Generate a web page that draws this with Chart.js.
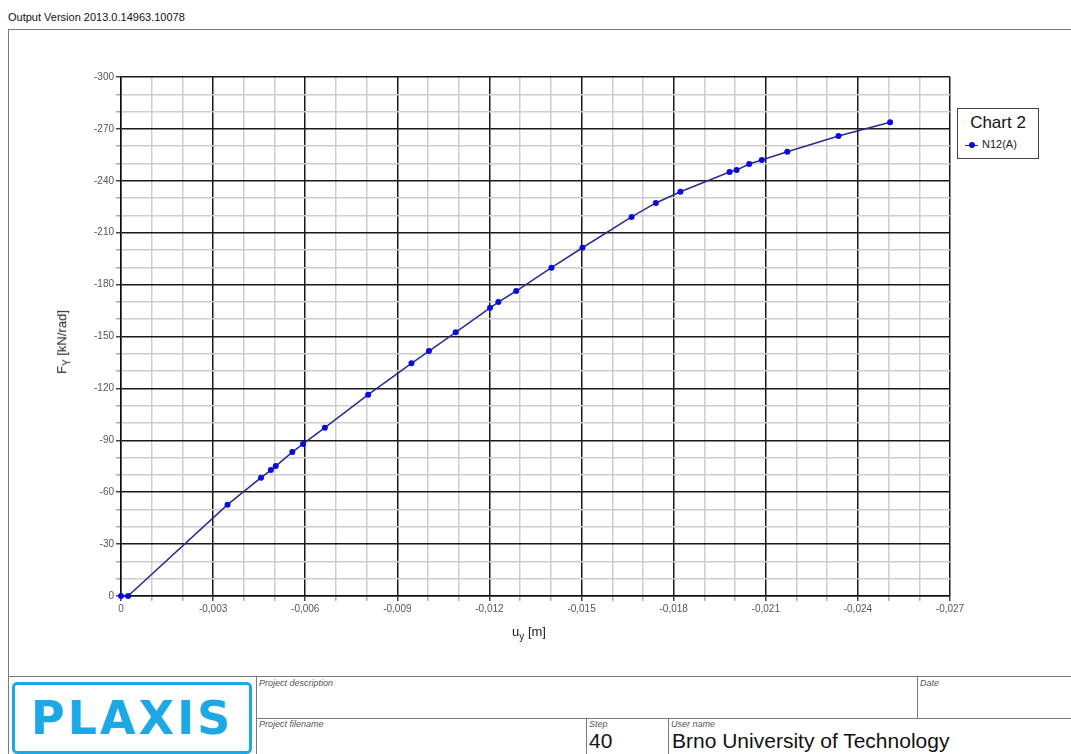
<!DOCTYPE html>
<html>
<head>
<meta charset="utf-8">
<script src="https://cdn.jsdelivr.net/npm/chart.js@4/dist/chart.umd.min.js"></script>
<style>
  html,body{margin:0;padding:0;background:#fff;width:1071px;height:754px;overflow:hidden;font-family:"Liberation Sans",Arial,sans-serif;}
  #wrap{position:relative;width:1071px;height:754px;}
  #c{position:absolute;left:0;top:0;}
  .abs{position:absolute;white-space:nowrap;}
  .hl{position:absolute;height:0;border-top:1px solid #7a7a7a;}
  .vl{position:absolute;width:0;border-left:1px solid #7a7a7a;}
  .lbl{position:absolute;font-size:9px;font-style:italic;color:#555;white-space:nowrap;}
</style>
</head>
<body>
<div id="wrap">
  <div class="abs" style="left:8px;top:11px;font-size:11px;color:#111;">Output Version 2013.0.14963.10078</div>
  <!-- outer frame -->
  <div class="hl" style="left:8px;top:29px;width:1063px;"></div>
  <div class="vl" style="left:8px;top:29px;height:725px;"></div>
  <canvas id="c" width="1071" height="676"></canvas>
  <!-- axis titles -->
  <div class="abs" style="left:529px;top:624px;transform:translateX(-50%);font-size:13px;color:#222;">u<sub style="font-size:10px;">y</sub> [m]</div>
  <div class="abs" style="left:63px;top:342px;transform:translate(-50%,-50%) rotate(-90deg);font-size:13px;color:#222;">F<sub style="font-size:10px;">Y</sub> [kN/rad]</div>
  <!-- legend -->
  <div class="abs" style="left:957px;top:108px;width:80px;height:49px;border:1px solid #444;background:#fff;">
    <div style="position:absolute;left:0;width:80px;top:4px;text-align:center;font-size:17px;color:#111;">Chart 2</div>
    <div style="position:absolute;left:7px;top:36px;width:13px;height:0;border-top:1.5px solid #2b2b8f;"></div>
    <div style="position:absolute;left:11px;top:33px;width:6px;height:6px;border-radius:50%;background:#0a0ae0;"></div>
    <div style="position:absolute;left:24px;top:29px;font-size:11px;color:#222;">N12(A)</div>
  </div>
  <!-- title block -->
  <div class="hl" style="left:8px;top:676px;width:1063px;"></div>
  <div style="position:absolute;left:12px;top:682px;width:234px;height:66px;border:3px solid #1ba8e4;border-radius:5px;"></div>
  <div class="abs" style="left:12px;top:682px;width:240px;height:72px;line-height:72px;text-align:center;font-size:46px;font-weight:bold;color:#1ba8e4;letter-spacing:3px;font-family:'DejaVu Sans','Liberation Sans',sans-serif;">PLAXIS</div>
  <div class="vl" style="left:256px;top:676px;height:78px;"></div>
  <div class="hl" style="left:256px;top:718px;width:815px;"></div>
  <div class="vl" style="left:917px;top:676px;height:42px;"></div>
  <div class="vl" style="left:586px;top:718px;height:36px;"></div>
  <div class="vl" style="left:668px;top:718px;height:36px;"></div>
  <div class="lbl" style="left:259px;top:678px;">Project description</div>
  <div class="lbl" style="left:920px;top:678px;">Date</div>
  <div class="lbl" style="left:259px;top:719px;">Project filename</div>
  <div class="lbl" style="left:589px;top:719px;">Step</div>
  <div class="lbl" style="left:671px;top:719px;">User name</div>
  <div class="abs" style="left:589px;top:729px;font-size:21px;color:#111;">40</div>
  <div class="abs" style="left:672px;top:729px;font-size:21px;color:#111;">Brno University of Technology</div>
</div>
<script>
// Data (u_y in m, F_Y in kN/rad)
const uy = [0, -0.00023, -0.00347, -0.00456, -0.00488, -0.00504, -0.00558, -0.00593, -0.00664, -0.00805,
            -0.00946, -0.01003, -0.01090, -0.01202, -0.01229, -0.01287, -0.01402, -0.01503, -0.01663, -0.01742,
            -0.01822, -0.01982, -0.02005, -0.02046, -0.02087, -0.02170, -0.02337, -0.02505];
const fy = [0, 0, -52.8, -68.4, -72.8, -75.1, -83.2, -87.9, -97.3, -116.4,
            -134.5, -141.6, -152.4, -166.6, -169.9, -176.3, -189.8, -201.3, -219.1, -227.2,
            -233.7, -245.1, -246.2, -249.7, -252.0, -256.8, -265.9, -273.8];
const seriesName = 'N12(A)';
const xTickStep = 0.001, xMin = -0.027, xMax = 0;
const yTickStep = 10, yMin = -300, yMax = 0;

const points = uy.map((u, i) => ({x: u, y: fy[i]}));

function xMajor(v){ return Math.abs(Math.round(v * 1000)) % 3 === 0; }
function yMajor(v){ return Math.abs(Math.round(v)) % 30 === 0; }
const major = '#1a1a1a', minor = '#cdcdcd';

new Chart(document.getElementById('c'), {
  type: 'line',
  data: {
    datasets: [{
      label: seriesName,
      data: points,
      borderColor: '#2b2b8f',
      borderWidth: 1.5,
      pointRadius: 3,
      pointBackgroundColor: '#0a0ae0',
      pointBorderColor: '#0a0ae0',
      pointBorderWidth: 0,
      tension: 0,
      fill: false,
      clip: false
    }]
  },
  options: {
    responsive: false,
    animation: false,
    devicePixelRatio: 1,
    layout: { padding: { left: 40, top: 77, right: 121, bottom: 40 } },
    plugins: { legend: { display: false }, tooltip: { enabled: false } },
    scales: {
      x: {
        type: 'linear', min: xMin, max: xMax, reverse: true,
        afterFit: s => { s.height = 40; s.paddingLeft = 0; s.paddingRight = 0; },
        border: { color: '#111', width: 1.5 },
        grid: {
          color: c => xMajor(c.tick.value) ? major : minor,
          lineWidth: 1.5,
          tickColor: c => xMajor(c.tick.value) ? '#444' : '#aaa',
          tickLength: 5
        },
        ticks: {
          stepSize: xTickStep, autoSkip: false, maxRotation: 0, padding: 2,
          color: '#555', font: { family: 'Liberation Sans', size: 10 },
          callback: v => {
            if (!xMajor(v)) return '';
            if (Math.abs(v) < 1e-9) return '0';
            return v.toFixed(3).replace('.', ',');
          }
        }
      },
      y: {
        type: 'linear', min: yMin, max: yMax, reverse: true,
        afterFit: s => { s.width = 81; s.paddingTop = 0; s.paddingBottom = 0; },
        border: { color: '#111', width: 1.5 },
        grid: {
          color: c => yMajor(c.tick.value) ? major : minor,
          lineWidth: 1.5,
          tickColor: c => yMajor(c.tick.value) ? '#444' : '#aaa',
          tickLength: 5
        },
        ticks: {
          stepSize: yTickStep, autoSkip: false, padding: 2,
          color: '#555', font: { family: 'Liberation Sans', size: 10 },
          callback: v => {
            if (!yMajor(v)) return '';
            if (Math.abs(v) < 1e-9) return '0';
            return String(Math.round(v));
          }
        }
      }
    }
  }
});
</script>
</body>
</html>
